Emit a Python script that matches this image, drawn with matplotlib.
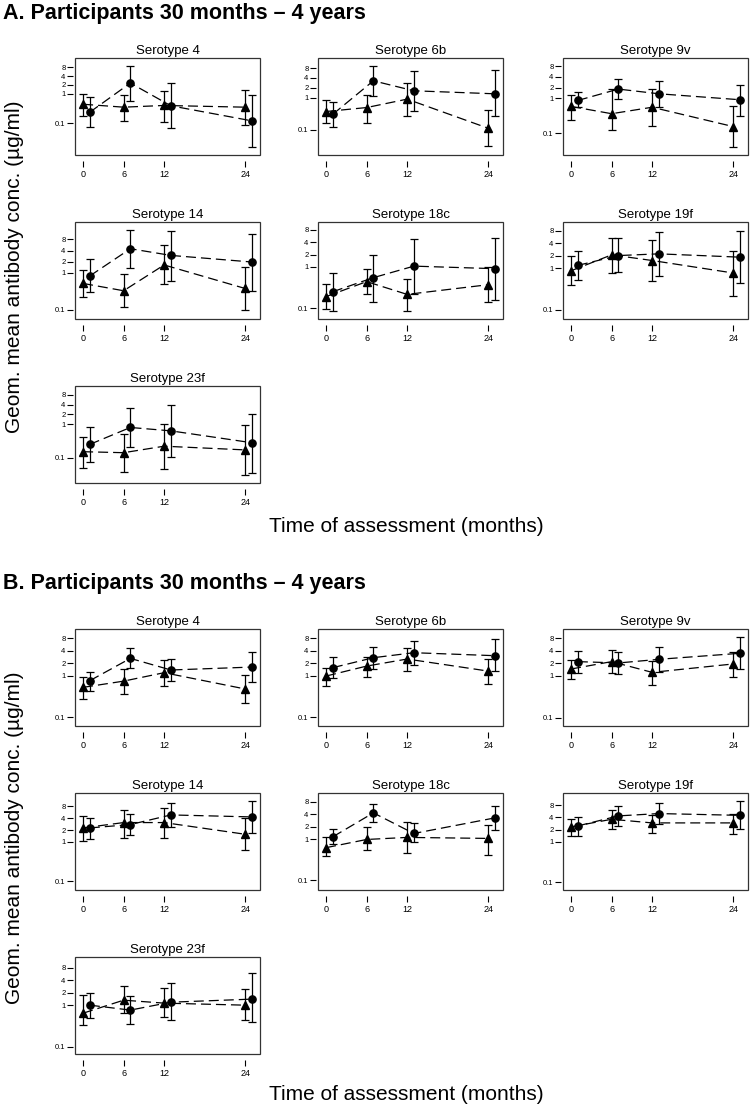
import matplotlib
matplotlib.use('Agg')
import matplotlib.pyplot as plt
from matplotlib.patches import Rectangle

plt.rcParams['font.family'] = ['Liberation Sans', 'DejaVu Sans']

serotypes = ['Serotype 4', 'Serotype 6b', 'Serotype 9v', 'Serotype 14',
             'Serotype 18c', 'Serotype 19f', 'Serotype 23f']
months_tri = [0, 6, 12, 24]
months_circ = [1, 7, 13, 25]
x_ticks = [0, 6, 12, 24]
y_ticks = [0.1, 1, 2, 4, 8]
y_ticklabels = ['0.1', '1', '2', '4', '8']

# ---------------- Panel A ----------------
A_tri_gm = [[0.44, 0.35, 0.40, 0.35], [0.37, 0.49, 0.89, 0.113], [0.58, 0.36, 0.55, 0.155],
            [0.52, 0.33, 1.64, 0.38], [0.19, 0.44, 0.215, 0.37], [0.86, 2.08, 1.52, 0.76],
            [0.15, 0.14, 0.22, 0.17]]
A_tri_lo = [[0.178, 0.123, 0.111, 0.088], [0.16, 0.16, 0.27, 0.031], [0.24, 0.124, 0.166, 0.04],
            [0.218, 0.118, 0.50, 0.10], [0.095, 0.215, 0.085, 0.137], [0.40, 0.76, 0.48, 0.21],
            [0.047, 0.036, 0.045, 0.030]]
A_tri_hi = [[1.0, 0.92, 1.27, 1.37], [0.85, 1.21, 2.77, 0.42], [1.24, 1.85, 1.81, 0.58],
            [1.18, 0.92, 5.5, 1.48], [0.39, 0.9, 0.52, 1.0], [1.97, 5.4, 4.7, 2.63],
            [0.42, 0.51, 1.0, 0.95]]
A_circ_gm = [[0.237, 2.31, 0.39, 0.12], [0.305, 3.27, 1.61, 1.30], [0.86, 1.81, 1.33, 0.90],
             [0.83, 4.5, 2.97, 1.97], [0.25, 0.55, 1.05, 0.91], [1.16, 2.0, 2.2, 1.83],
             [0.25, 0.81, 0.64, 0.28]]
A_circ_lo = [[0.077, 0.58, 0.068, 0.016], [0.127, 1.13, 0.39, 0.27], [0.55, 0.94, 0.55, 0.32],
             [0.31, 1.39, 0.61, 0.33], [0.085, 0.14, 0.22, 0.155], [0.51, 0.79, 0.63, 0.44],
             [0.075, 0.21, 0.106, 0.035]]
A_circ_hi = [[0.77, 8.5, 2.31, 0.92], [0.75, 9.1, 6.4, 6.8], [1.48, 3.57, 3.0, 2.4],
             [2.32, 14.8, 13.3, 11.3], [0.72, 2.0, 4.8, 5.2], [2.63, 5.4, 7.5, 7.9],
             [0.81, 3.2, 4.0, 2.1]]
A_ylim = [(0.0083, 16.4), (0.0169, 16.5), (0.024, 13.9), (0.057, 23.7),
          (0.054, 12.5), (0.059, 12.9), (0.017, 14.5)]

# ---------------- Panel B ----------------
B_tri_gm = [[0.525, 0.74, 1.18, 0.48], [0.98, 1.7, 2.51, 1.29], [1.47, 2.21, 1.22, 1.94],
            [2.26, 3.09, 3.09, 1.56], [0.62, 0.98, 1.1, 1.04], [2.34, 3.6, 2.93, 2.93],
            [0.64, 1.32, 1.12, 1.0]]
B_tri_lo = [[0.275, 0.36, 0.555, 0.217], [0.565, 0.91, 1.29, 0.63], [0.83, 1.16, 0.6, 0.93],
            [1.06, 1.29, 1.29, 0.615], [0.39, 0.54, 0.45, 0.4], [1.4, 2.13, 1.66, 1.54],
            [0.33, 0.64, 0.51, 0.44]]
B_tri_hi = [[0.95, 1.42, 2.33, 1.02], [1.56, 2.86, 4.5, 2.47], [2.42, 4.13, 2.33, 3.84],
            [4.55, 6.6, 7.3, 4.1], [1.14, 1.92, 2.6, 2.26], [3.6, 6.0, 4.7, 4.98],
            [1.74, 2.9, 2.57, 2.43]]
B_circ_gm = [[0.76, 2.6, 1.37, 1.61], [1.56, 2.7, 3.56, 3.02], [2.21, 2.05, 2.51, 3.5],
             [2.26, 2.75, 4.83, 4.3], [1.14, 4.34, 1.37, 3.28], [2.47, 4.36, 4.98, 4.5],
             [1.0, 0.76, 1.18, 1.4]]
B_circ_lo = [[0.43, 1.5, 0.74, 0.72], [0.86, 1.45, 1.8, 1.29], [1.2, 1.1, 1.27, 1.5],
             [1.21, 1.47, 2.4, 1.72], [0.76, 2.6, 0.83, 1.65], [1.4, 2.47, 2.72, 2.05],
             [0.49, 0.35, 0.43, 0.39]]
B_circ_hi = [[1.25, 4.7, 2.56, 3.63], [2.86, 4.97, 6.9, 7.45], [3.9, 3.77, 5.06, 8.5],
             [3.97, 5.0, 9.7, 10.7], [1.75, 7.0, 2.4, 6.4], [4.1, 7.7, 9.3, 10.2],
             [1.95, 1.65, 3.4, 5.9]]
B_ylim = [(0.062, 13.2), (0.062, 13.2), (0.063, 13.4), (0.06, 17.4),
          (0.058, 13.2), (0.065, 16.0), (0.066, 14.6)]

W, H = 753, 1114
fig = plt.figure(figsize=(W / 100, H / 100), dpi=100)

col_left = [75, 318, 563]
ax_w, ax_h = 185, 97
A_row_top = [58, 222, 386]
B_row_top = [629, 793, 957]


def draw_series(ax, xs, gm, lo, hi, marker):
    yerr = [[g - l for g, l in zip(gm, lo)], [h - g for g, h in zip(gm, hi)]]
    ax.errorbar(xs, gm, yerr=yerr, fmt='none', ecolor='black', elinewidth=0.9,
                capsize=2.6, capthick=0.9, zorder=2)
    ax.plot(xs, gm, color='black', lw=0.9, dashes=(8, 4), marker=marker,
            markersize=5.2, markerfacecolor='black', markeredgecolor='black', zorder=3)


def make_panel(idx, row_tops, tri_gm, tri_lo, tri_hi, c_gm, c_lo, c_hi, ylims):
    r, c = divmod(idx, 3)
    left = col_left[c]
    top = row_tops[r]
    ax = fig.add_axes([left / W, 1 - (top + ax_h) / H, ax_w / W, ax_h / H])
    ax.set_yscale('log')
    draw_series(ax, months_tri, tri_gm[idx], tri_lo[idx], tri_hi[idx], '^')
    draw_series(ax, months_circ, c_gm[idx], c_lo[idx], c_hi[idx], 'o')
    ax.set_xlim(-1.2, 26.2)
    ax.set_ylim(*ylims[idx])
    ax.set_xticks(x_ticks)
    ax.set_xticklabels([str(v) for v in x_ticks])
    ax.set_yticks(y_ticks)
    ax.set_yticklabels(y_ticklabels)
    ax.yaxis.set_minor_locator(matplotlib.ticker.NullLocator())
    for s in ['top', 'right']:
        ax.spines[s].set_visible(False)
    ax.spines['left'].set_position(('outward', 1.3))
    ax.spines['bottom'].set_position(('outward', 4.3))
    ax.spines['left'].set_linewidth(0)
    ax.spines['bottom'].set_linewidth(0)
    ax.tick_params(axis='x', length=4.2, width=0.8, pad=2, labelsize=6.5, colors='black')
    ax.tick_params(axis='y', length=4.0, width=0.8, pad=1.5, labelsize=5.5, colors='black')
    ax.add_patch(Rectangle((0, 0), 1, 1, transform=ax.transAxes, fill=False,
                           edgecolor='#333333', lw=0.9, clip_on=False, zorder=5))
    ax.set_title(serotypes[idx], fontsize=9.5, pad=3)
    return ax


for i in range(7):
    make_panel(i, A_row_top, A_tri_gm, A_tri_lo, A_tri_hi, A_circ_gm, A_circ_lo, A_circ_hi, A_ylim)
    make_panel(i, B_row_top, B_tri_gm, B_tri_lo, B_tri_hi, B_circ_gm, B_circ_lo, B_circ_hi, B_ylim)

fig.text(3 / W, 1 - 14 / H, 'A. Participants 30 months \u2013 4 years', fontsize=15.5,
         fontweight='bold', va='center', ha='left')
fig.text(3 / W, 1 - 584 / H, 'B. Participants 30 months \u2013 4 years', fontsize=15.5,
         fontweight='bold', va='center', ha='left')

ylabel = 'Geom. mean antibody conc. (\u00b5g/ml)'
fig.text(15 / W, 1 - 267 / H, ylabel, rotation=90, fontsize=15, va='center', ha='center')
fig.text(15 / W, 1 - 838 / H, ylabel, rotation=90, fontsize=15, va='center', ha='center')
xlabel = 'Time of assessment (months)'
fig.text(406 / W, 1 - 526 / H, xlabel, fontsize=15, va='center', ha='center')
fig.text(406 / W, 1 - 1094 / H, xlabel, fontsize=15, va='center', ha='center')

fig.savefig('out.png', dpi=100)
